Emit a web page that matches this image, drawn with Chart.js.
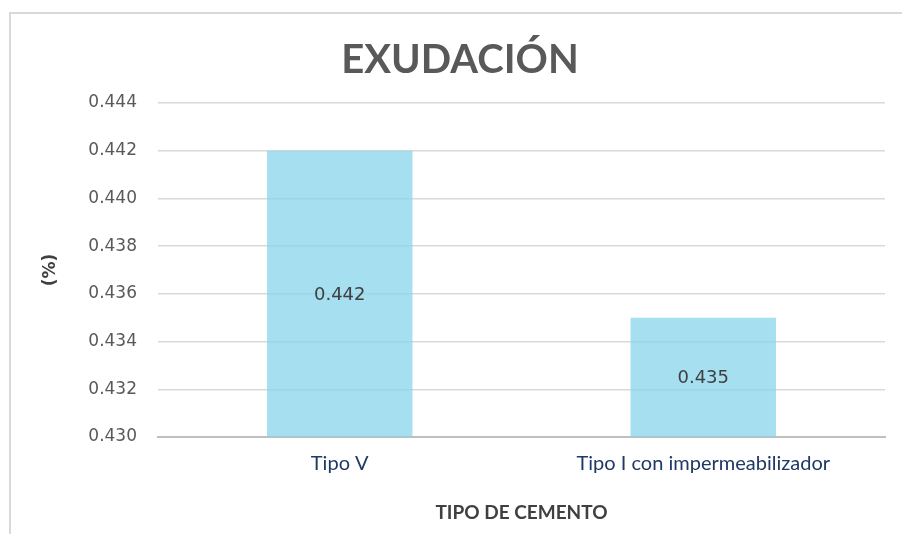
<!DOCTYPE html>
<html>
<head>
<meta charset="utf-8">
<script src="https://cdn.jsdelivr.net/npm/chart.js@4"></script>
<style>
  html, body { margin: 0; padding: 0; background: #fff; }
  #wrap { position: relative; width: 902px; height: 534px; overflow: hidden; }
  #frame { position: absolute; left: 9px; top: 12px; right: -10px; bottom: -10px; border-top: 2px solid #d9d9d9; border-left: 2px solid #d9d9d9; }
  canvas { position: absolute; left: 0; top: 0; }
</style>
</head>
<body>
<div id="wrap">
  <div id="frame"></div>
  <canvas id="chart" width="902" height="534"></canvas>
</div>
<script>
  const categories = ['Tipo V', 'Tipo I con impermeabilizador'];
  const exudacion = [0.442, 0.435];
  const yTicks = [0.430, 0.432, 0.434, 0.436, 0.438, 0.440, 0.442, 0.444];

  // value labels centred inside each bar
  const barLabels = {
    id: 'barLabels',
    afterDraw(chart) {
      const ctx = chart.ctx;
      const x = chart.scales.x;
      const y = chart.scales.y;
      ctx.save();
      ctx.font = '18px "DejaVu Sans"';
      ctx.fillStyle = '#404040';
      ctx.textAlign = 'center';
      ctx.textBaseline = 'middle';
      exudacion.forEach((v, i) => {
        const top = y.getPixelForValue(v);
        const base = y.getPixelForValue(y.min);
        ctx.fillText(v.toFixed(3), x.getPixelForValue(i), (top + base) / 2 + 1);
      });
      ctx.restore();
    }
  };

  new Chart(document.getElementById('chart'), {
    type: 'bar',
    data: {
      labels: categories,
      datasets: [{
        data: exudacion,
        backgroundColor: 'rgba(135, 212, 235, 0.75)',
        borderWidth: 0,
        barPercentage: 0.4,
        categoryPercentage: 1
      }]
    },
    options: {
      responsive: false,
      animation: false,
      layout: { padding: { left: 35, right: 17, top: 0, bottom: 0 } },
      plugins: {
        legend: { display: false },
        tooltip: { enabled: false },
        title: {
          display: true,
          text: 'EXUDACIÓN',
          color: '#595959',
          font: { family: 'Lato', size: 40, weight: 'bold' },
          padding: { top: 36, bottom: 19 }
        }
      },
      scales: {
        x: {
          grid: { display: false, drawTicks: false },
          border: { color: '#bfbfbf', width: 2 },
          ticks: { color: '#1f3864', font: { family: 'Lato', size: 20 }, padding: 15 },
          title: {
            display: true,
            text: 'TIPO DE CEMENTO',
            color: '#404040',
            font: { family: 'Lato', size: 19, weight: 'bold' },
            padding: { top: 0, bottom: 10 }
          },
          afterFit(scale) { scale.height = 97; }
        },
        y: {
          min: 0.430,
          max: 0.444,
          afterBuildTicks(scale) { scale.ticks = yTicks.map(v => ({ value: v })); },
          grid: { color: '#d9d9d9', lineWidth: 1.5, drawTicks: false },
          border: { display: false },
          ticks: {
            color: '#595959',
            font: { family: 'DejaVu Sans', size: 17 },
            padding: 21,
            callback: v => Number(v).toFixed(3)
          },
          title: {
            display: true,
            text: '(%)',
            color: '#404040',
            font: { family: 'DejaVu Sans', size: 17, weight: 'bold' },
            padding: { top: 5, bottom: 0 }
          },
          afterFit(scale) { scale.width = 123; }
        }
      }
    },
    plugins: [barLabels]
  });
</script>
</body>
</html>
